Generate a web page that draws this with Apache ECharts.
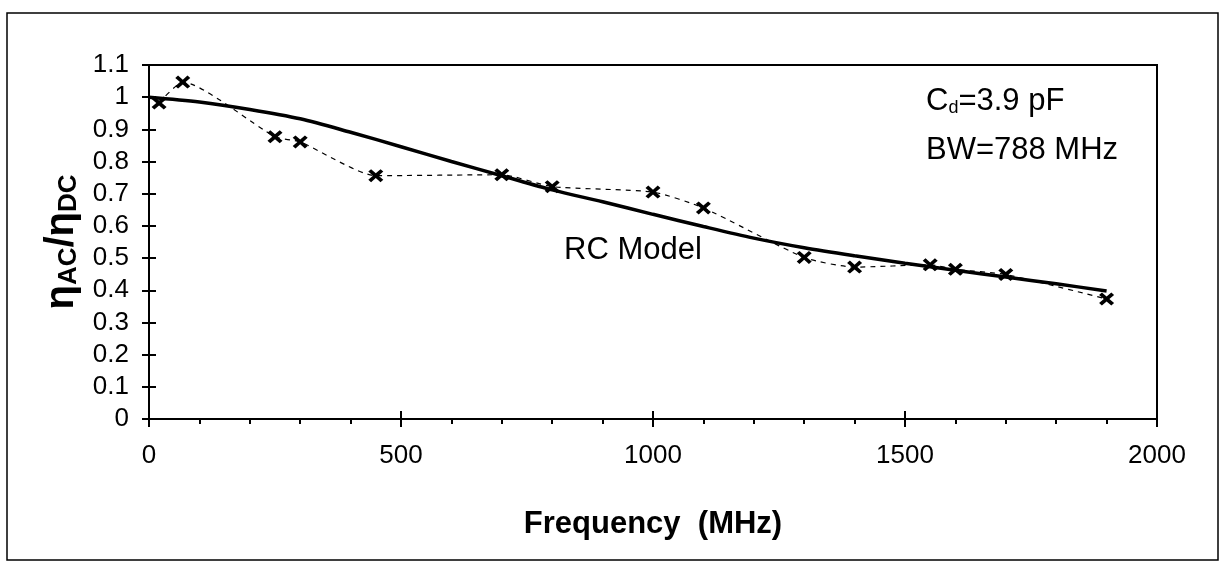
<!DOCTYPE html>
<html>
<head>
<meta charset="utf-8">
<script src="https://cdn.jsdelivr.net/npm/echarts@6/dist/echarts.min.js"></script>
<style>
html,body{margin:0;padding:0;background:#fff;}
#chart{width:1219px;height:562px;}
</style>
</head>
<body>
<div id="chart"></div>
<script>
// Measured points (x markers, dashed smooth line)
const freqMeasured = [20, 67, 250, 300, 450, 700, 800, 1000, 1100, 1300, 1400, 1550, 1600, 1700, 1900];
const ratioMeasured = [0.982, 1.047, 0.877, 0.861, 0.756, 0.759, 0.722, 0.705, 0.656, 0.502, 0.472, 0.479, 0.465, 0.449, 0.373];
// RC model curve (solid)
const freqModel = [0, 100, 200, 300, 400, 500, 600, 700, 800, 900, 1000, 1100, 1200, 1300, 1400, 1500, 1600, 1700, 1800, 1900];
const ratioModel = [1.0, 0.985, 0.962, 0.933, 0.891, 0.846, 0.80, 0.756, 0.712, 0.675, 0.636, 0.598, 0.562, 0.532, 0.507, 0.484, 0.462, 0.441, 0.42, 0.398];
// Axis ticks
const xTicks = {min: 0, max: 2000, interval: 500};
const yTicks = {min: 0, max: 1.1, interval: 0.1};
// Texts
const xTitle = 'Frequency  (MHz)';
const modelLabel = 'RC Model';
const annotLine1 = ['C', 'd', '=3.9 pF'];
const annotLine2 = 'BW=788 MHz';

const FF = '"Liberation Sans", Arial, Helvetica, sans-serif';
const black = '#000';

const chart = echarts.init(document.getElementById('chart'), null, {renderer: 'canvas'});

function zip(a, b) { return a.map((v, i) => [v, b[i]]); }

const xMark = 'path://M0,2.6 L2.6,0 L7,4.4 L11.4,0 L14,2.6 L9.6,7 L14,11.4 L11.4,14 L7,9.6 L2.6,14 L0,11.4 L4.4,7 Z';

const option = {
  backgroundColor: '#fff',
  animation: false,
  textStyle: {fontFamily: FF, color: black},
  grid: {
    left: 149, right: 62, top: 65, bottom: 143,
    show: true, borderColor: black, borderWidth: 2, backgroundColor: 'transparent'
  },
  xAxis: [{
    type: 'value', position: 'bottom', offset: 0,
    min: xTicks.min, max: xTicks.max, interval: xTicks.interval,
    axisLine: {onZero: false, lineStyle: {color: black, width: 2}},
    axisTick: {length: 8, lineStyle: {color: black, width: 2}},
    minorTick: {show: true, splitNumber: 5, length: 5, lineStyle: {color: black, width: 2}},
    splitLine: {show: false},
    axisLabel: {fontSize: 26, color: black, margin: 24, fontFamily: FF, formatter: v => String(v)},
    name: xTitle, nameLocation: 'middle', nameGap: 90,
    nameTextStyle: {fontSize: 31, fontWeight: 'bold', color: black, fontFamily: FF}
  }, {
    type: 'value', position: 'bottom', offset: 0,
    min: xTicks.min, max: xTicks.max, interval: xTicks.interval,
    axisLine: {show: false, onZero: false},
    axisTick: {inside: true, length: 8, lineStyle: {color: black, width: 2}},
    splitLine: {show: false},
    axisLabel: {show: false}
  }],
  yAxis: [{
    type: 'value', position: 'left', offset: 0,
    min: yTicks.min, max: yTicks.max, interval: yTicks.interval,
    axisLine: {onZero: false, lineStyle: {color: black, width: 2}},
    axisTick: {length: 7, lineStyle: {color: black, width: 2}},
    splitLine: {show: false},
    axisLabel: {fontSize: 26, color: black, margin: 20, fontFamily: FF},
    name: '{e|η}{s|AC}{e|/η}{s|DC}',
    nameLocation: 'middle', nameRotate: 90, nameGap: 62,
    nameTextStyle: {
      color: black, fontFamily: FF, fontWeight: 'bold',
      rich: {
        e: {fontSize: 40, fontWeight: 'bold', fontFamily: FF, color: black, lineHeight: 44, verticalAlign: 'bottom'},
        s: {fontSize: 26, fontWeight: 'bold', fontFamily: FF, color: black, lineHeight: 26, verticalAlign: 'bottom'}
      }
    }
  }, {
    type: 'value', position: 'left', offset: 0,
    min: yTicks.min, max: yTicks.max, interval: yTicks.interval,
    axisLine: {show: false, onZero: false},
    axisTick: {inside: true, length: 7, lineStyle: {color: black, width: 2}},
    splitLine: {show: false},
    axisLabel: {show: false}
  }],
  series: [{
    name: 'Measured', type: 'line',
    data: zip(freqMeasured, ratioMeasured),
    smooth: 0.2,
    symbol: xMark, symbolSize: [15, 13], showSymbol: true,
    itemStyle: {color: black},
    lineStyle: {color: black, width: 1.2, type: [5, 5]},
    z: 3
  }, {
    name: 'RC Model', type: 'line',
    data: zip(freqModel, ratioModel),
    smooth: 0.3, showSymbol: false, symbol: 'none',
    lineStyle: {color: black, width: 3.5},
    z: 2
  }],
  graphic: [{
    type: 'rect', silent: true,
    shape: {x: 7, y: 13, width: 1211, height: 547},
    style: {fill: 'none', stroke: black, lineWidth: 1.5}
  }, {
    type: 'text', left: 564, top: 235,
    style: {text: modelLabel, font: '31px ' + FF, fill: black}
  }, {
    type: 'text', left: 926, top: 86,
    style: {
      text: '{c|' + annotLine1[0] + '}{d|' + annotLine1[1] + '}{c|' + annotLine1[2] + '}',
      rich: {
        c: {fontSize: 31, fontFamily: FF, fill: black, color: black, lineHeight: 34, verticalAlign: 'bottom'},
        d: {fontSize: 18, fontFamily: FF, fill: black, color: black, lineHeight: 14, verticalAlign: 'bottom'}
      }
    }
  }, {
    type: 'text', left: 926, top: 135,
    style: {text: annotLine2, font: '31px ' + FF, fill: black}
  }]
};

chart.setOption(option);
</script>
</body>
</html>
